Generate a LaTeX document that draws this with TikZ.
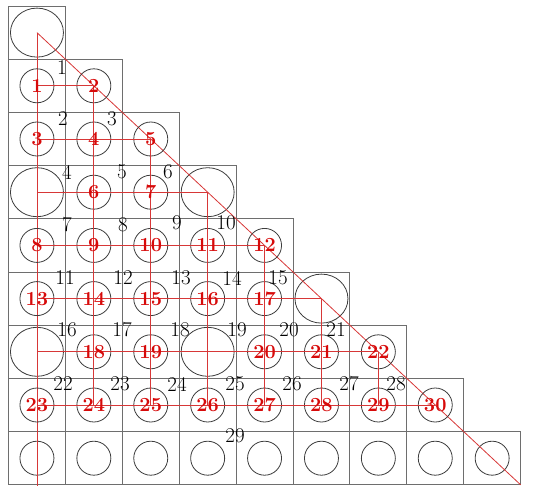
\documentclass[tikz,border=0pt]{standalone}
\usepackage{fontspec}
\usetikzlibrary{shapes.geometric}
\definecolor{gridgray}{RGB}{110,110,110}
\definecolor{ringgray}{RGB}{60,60,60}
\definecolor{linered}{RGB}{215,55,55}
\definecolor{textred}{RGB}{215,10,10}
\tikzset{
  cell/.style={draw=gridgray, line width=0.9pt},
  ring/.style={circle, draw=ringgray, line width=0.8pt, minimum size=34pt, inner sep=0pt,
    text=textred, font=\fontsize{20}{24}\selectfont\bfseries},
  bigring/.style={ellipse, draw=ringgray, line width=0.8pt, minimum width=53pt, minimum height=49pt, inner sep=0pt},
  redline/.style={draw=linered, line width=0.8pt},
  num/.style={inner sep=0pt, font=\fontsize{21}{25}\selectfont, text=black}
}
\begin{document}
\begin{tikzpicture}[x=1pt, y=-1pt]
\useasboundingbox (0,0) rectangle (534,500);
% squares: row r has r+1 squares
\foreach \r in {0,...,8}{
  \foreach \c in {0,...,\r}{
    \draw[cell] ({8.5+56.9*\c},{6+53.2*\r}) rectangle ({8.5+56.9*(\c+1)},{6+53.2*(\r+1)});
  }
}
% big rings
\foreach \r/\c in {0/0,3/0,3/3,5/5,6/0,6/3}{
  \node[bigring] (c-\r-\c) at ({8.5+56.9*(\c+0.5)},{6+53.2*(\r+0.5)}) {};
}
% bottom row empty rings
\foreach \c in {0,...,8}{
  \node[ring] (c-8-\c) at ({8.5+56.9*(\c+0.5)},{6+53.2*8.5}) {};
}
% coordinates for free ends
\coordinate (bl) at (36.95,486);
\coordinate (br) at (520.6,484.8);
\path[redline] (c-0-0.center) -- (br);
\path[redline] (c-0-0.center) -- (bl);
% numbered rings
\foreach \r/\c/\t in {1/0/1,1/1/2,
  2/0/3,2/1/4,2/2/5,
  3/1/6,3/2/7,
  4/0/8,4/1/9,4/2/10,4/3/11,4/4/12,
  5/0/13,5/1/14,5/2/15,5/3/16,5/4/17,
  6/1/18,6/2/19,6/4/20,6/5/21,6/6/22,
  7/0/23,7/1/24,7/2/25,7/3/26,7/4/27,7/5/28,7/6/29,7/7/30}{
  \node[ring] (c-\r-\c) at ({8.5+56.9*(\c+0.5)},{6+53.2*(\r+0.5)}) {};
}
% horizontal red lines
\path[redline] (c-1-0.center) -- (c-1-1.center);
\path[redline] (c-2-0.center) -- (c-2-2.center);
\path[redline] (c-3-0.center) -- (c-3-3.center);
\path[redline] (c-4-0.center) -- (c-4-4.center);
\path[redline] (c-5-0.center) -- (c-5-5.center);
\path[redline] (c-6-0.center) -- (c-6-6.center);
\path[redline] (c-7-0.center) -- (c-7-7.center);
% vertical red lines
\path[redline] (c-1-1.center) -- (c-7-1.center);
\path[redline] (c-2-2.center) -- (c-7-2.center);
\path[redline] (c-3-3.center) -- (c-7-3.center);
\path[redline] (c-4-4.center) -- (c-7-4.center);
\path[redline] (c-5-5.center) -- (c-7-5.center);
\path[redline] (c-6-6.center) -- (c-7-6.center);
% red labels on top
\foreach \r/\c/\t in {1/0/1,1/1/2,
  2/0/3,2/1/4,2/2/5,
  3/1/6,3/2/7,
  4/0/8,4/1/9,4/2/10,4/3/11,4/4/12,
  5/0/13,5/1/14,5/2/15,5/3/16,5/4/17,
  6/1/18,6/2/19,6/4/20,6/5/21,6/6/22,
  7/0/23,7/1/24,7/2/25,7/3/26,7/4/27,7/5/28,7/6/29,7/7/30}{
  \node[ring, draw=none, text=textred] (t-\t) at (c-\r-\c) {\t};
}
% black numbers
\foreach \t/\x/\y in {1/62/68,
  2/63/119, 3/112/119,
  4/67/172, 5/122/172, 6/168/172,
  7/67/225, 8/123/225, 9/177/223, 10/226/223,
  11/65/278, 12/123/278, 13/181/278, 14/232/278, 15/278/278,
  16/67/330, 17/122/330, 18/180/330, 19/237/330, 20/289/330, 21/336/330,
  22/63/384, 23/120/384, 24/177/384, 25/235/384, 26/292/384, 27/349/384, 28/396/384,
  29/235/436}{
  \node[num] (n-\t) at (\x,\y) {\t};
}
\end{tikzpicture}
\end{document}
